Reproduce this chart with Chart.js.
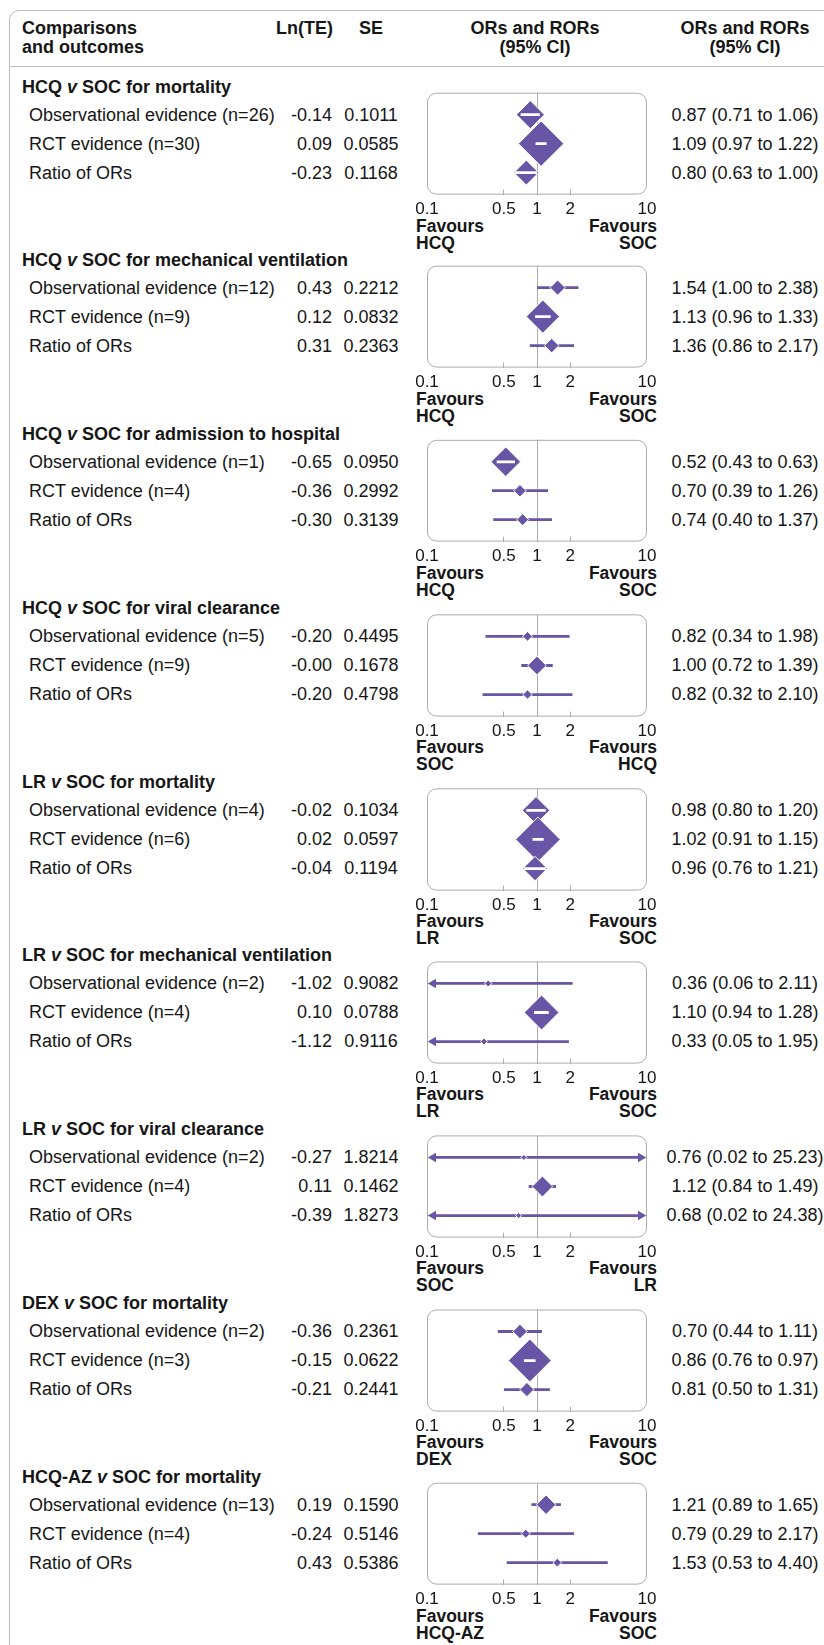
<!DOCTYPE html>
<html>
<head>
<meta charset="utf-8">
<title>Observational vs RCT evidence</title>
<script src="https://cdn.jsdelivr.net/npm/chart.js@4.4.1/dist/chart.umd.min.js"></script>
<style>
  html, body { margin: 0; padding: 0; background: #fff; }
  body { position: relative; width: 824px; height: 1645px; overflow: hidden;
         font-family: "Liberation Sans", Arial, sans-serif; color: #161616; }
  #frame { position: absolute; left: 9px; top: 10px; width: 900px; height: 1700px;
           border: 1px solid #bdbdbd; border-radius: 10px; box-sizing: border-box; }
  #rule { position: absolute; left: 10px; top: 66px; width: 820px; height: 1px; background: #bdbdbd; }
  .txt { position: absolute; white-space: nowrap; font-size: 18px; line-height: 20px; }
  .b { font-weight: bold; }
  .fav { font-weight: bold; font-size: 17.5px; line-height: 16.5px; }
  .plot { position: absolute; }
</style>
</head>
<body>
<div id="frame"></div>
<div id="rule"></div>
<script>
const comparisons = ['HCQ', 'HCQ', 'HCQ', 'HCQ', 'LR', 'LR', 'LR', 'DEX', 'HCQ-AZ'];
const outcomes = ['mortality', 'mechanical ventilation', 'admission to hospital', 'viral clearance',
                  'mortality', 'mechanical ventilation', 'viral clearance', 'mortality', 'mortality'];
const favoursLeft  = ['HCQ', 'HCQ', 'HCQ', 'SOC', 'LR', 'LR', 'SOC', 'DEX', 'HCQ-AZ'];
const favoursRight = ['SOC', 'SOC', 'SOC', 'HCQ', 'SOC', 'SOC', 'LR', 'SOC', 'SOC'];
const nObs = [26, 12, 1, 5, 4, 2, 2, 2, 13];
const nRct = [30, 9, 4, 9, 6, 4, 4, 3, 4];

// each row: observational, RCT, ratio of ORs
const lnTE = [
  [-0.14, 0.09, -0.23],
  [0.43, 0.12, 0.31],
  [-0.65, -0.36, -0.30],
  [-0.20, -0.00, -0.20],
  [-0.02, 0.02, -0.04],
  [-1.02, 0.10, -1.12],
  [-0.27, 0.11, -0.39],
  [-0.36, -0.15, -0.21],
  [0.19, -0.24, 0.43]
];
const seTE = [
  [0.1011, 0.0585, 0.1168],
  [0.2212, 0.0832, 0.2363],
  [0.0950, 0.2992, 0.3139],
  [0.4495, 0.1678, 0.4798],
  [0.1034, 0.0597, 0.1194],
  [0.9082, 0.0788, 0.9116],
  [1.8214, 0.1462, 1.8273],
  [0.2361, 0.0622, 0.2441],
  [0.1590, 0.5146, 0.5386]
];
const orEst = [
  [0.87, 1.09, 0.80],
  [1.54, 1.13, 1.36],
  [0.52, 0.70, 0.74],
  [0.82, 1.00, 0.82],
  [0.98, 1.02, 0.96],
  [0.36, 1.10, 0.33],
  [0.76, 1.12, 0.68],
  [0.70, 0.86, 0.81],
  [1.21, 0.79, 1.53]
];
const orLow = [
  [0.71, 0.97, 0.63],
  [1.00, 0.96, 0.86],
  [0.43, 0.39, 0.40],
  [0.34, 0.72, 0.32],
  [0.80, 0.91, 0.76],
  [0.06, 0.94, 0.05],
  [0.02, 0.84, 0.02],
  [0.44, 0.76, 0.50],
  [0.89, 0.29, 0.53]
];
const orHigh = [
  [1.06, 1.22, 1.00],
  [2.38, 1.33, 2.17],
  [0.63, 1.26, 1.37],
  [1.98, 1.39, 2.10],
  [1.20, 1.15, 1.21],
  [2.11, 1.28, 1.95],
  [25.23, 1.49, 24.38],
  [1.11, 0.97, 1.31],
  [1.65, 2.17, 4.40]
];
const xTicks = [0.1, 0.5, 1, 2, 10];

const FONT = '"Liberation Sans", Arial, sans-serif';
const purple = '#6955a5';
const gray = '#acacac';
const xMin = xTicks[0], xMax = xTicks[xTicks.length - 1];

// layout (page px)
const PITCH = 173.75, BOX_TOP0 = 92.7, BOX_LEFT = 427, BOX_W = 220, BOX_H = 102;
const ROW0 = 22, ROW_STEP = 29;

function markerRadius(s) { return Math.max(3, 1.2 / s + 2.2); }
function fmtLn(v) { return (v < 0 || Object.is(v, -0) ? '-' : '') + Math.abs(v).toFixed(2); }
function fmtOR(p, i) {
  return orEst[p][i].toFixed(2) + ' (' + orLow[p][i].toFixed(2) + ' to ' + orHigh[p][i].toFixed(2) + ')';
}

function put(html, x, yc, align, cls, lh) {
  const d = document.createElement('div');
  d.className = 'txt ' + (cls || '');
  d.innerHTML = html;
  const h = lh || 20;
  d.style.top = (yc - h / 2) + 'px';
  if (align === 'left') d.style.left = x + 'px';
  else if (align === 'right') { d.style.right = (824 - x) + 'px'; d.style.textAlign = 'right'; }
  else { d.style.left = x + 'px'; d.style.transform = 'translateX(-50%)'; d.style.textAlign = 'center'; }
  document.body.appendChild(d);
  return d;
}

// header
put('Comparisons', 22, 28, 'left', 'b');
put('and outcomes', 22, 47, 'left', 'b');
put('Ln(TE)', 333, 28, 'right', 'b');
put('SE', 371, 28, 'center', 'b');
put('ORs and RORs', 535, 28, 'center', 'b');
put('(95% CI)', 535, 47, 'center', 'b');
put('ORs and RORs', 745, 28, 'center', 'b');
put('(95% CI)', 745, 47, 'center', 'b');

const framePlugin = {
  id: 'frame',
  beforeDatasetsDraw(chart) {
    const { ctx, chartArea: a } = chart;
    ctx.save();
    ctx.strokeStyle = gray;
    ctx.lineWidth = 1;
    ctx.beginPath();
    ctx.roundRect(a.left + 0.5, a.top + 0.5, a.width - 1, a.height - 1, 9);
    ctx.stroke();
    ctx.restore();
  }
};

function ciInsideMarker(chart, p, i) {
  const sx = chart.scales.x;
  if (!sx) return false;
  const c = sx.getPixelForValue(orEst[p][i]);
  const r = markerRadius(seTE[p][i]);
  return sx.getPixelForValue(orLow[p][i]) >= c - r && sx.getPixelForValue(orHigh[p][i]) <= c + r;
}

function makeChart(p, height) {
  const wrap = document.createElement('div');
  wrap.className = 'plot';
  const canvas = document.createElement('canvas');
  canvas.width = 270;
  canvas.height = height;
  canvas.style.width = '270px';
  canvas.style.height = height + 'px';
  wrap.appendChild(canvas);
  document.body.appendChild(wrap);

  const rows = [0, 1, 2];
  const datasets = [];
  // confidence intervals (arrows where they run off the axis)
  rows.forEach(i => {
    const lo = orLow[p][i], hi = orHigh[p][i];
    datasets.push({
      showLine: true,
      data: [{ x: lo < xMin ? xMin * 1.14 : lo, y: i + 1 }, { x: hi > xMax ? xMax / 1.14 : hi, y: i + 1 }],
      borderColor: purple,
      borderWidth: 2.8,
      pointStyle: 'triangle',
      pointRadius: [lo < xMin ? 5.5 : 0, hi > xMax ? 5.5 : 0],
      pointRotation: [-90, 90],
      pointBackgroundColor: purple,
      pointBorderWidth: 0,
      order: 3,
      clip: 10
    });
  });
  // point estimates
  datasets.push({
    data: rows.map(i => ({ x: orEst[p][i], y: i + 1 })),
    pointStyle: 'rectRot',
    pointRadius: rows.map(i => markerRadius(seTE[p][i])),
    pointBackgroundColor: purple,
    pointBorderColor: '#fff',
    pointBorderWidth: 1,
    showLine: false,
    order: 2,
    clip: 30
  });
  // CI drawn in white where it sits inside the marker
  rows.forEach(i => {
    datasets.push({
      showLine: true,
      data: [{ x: orLow[p][i], y: i + 1 }, { x: orHigh[p][i], y: i + 1 }],
      borderWidth: 2.8,
      pointRadius: 0,
      order: 1,
      borderColor: ctx => ciInsideMarker(ctx.chart, p, i) ? '#fff' : 'rgba(255,255,255,0)'
    });
  });

  const chart = new Chart(canvas, {
    type: 'scatter',
    data: { datasets },
    plugins: [framePlugin],
    options: {
      responsive: false,
      animation: false,
      events: [],
      layout: { padding: { left: 25, right: 25, top: 4, bottom: 0 } },
      plugins: { legend: { display: false }, tooltip: { enabled: false } },
      scales: {
        x: {
          type: 'logarithmic',
          min: xMin,
          max: xMax,
          afterBuildTicks: axis => { axis.ticks = xTicks.map(v => ({ value: v })); },
          ticks: {
            autoSkip: false, maxRotation: 0, padding: 10, color: '#161616',
            font: { family: FONT, size: 17 },
            callback: v => String(v)
          },
          grid: {
            drawOnChartArea: true,
            tickLength: -5,
            lineWidth: 1,
            color: ctx => (ctx.tick && ctx.tick.value === 1) ? gray : 'rgba(0,0,0,0)',
            tickColor: ctx => (ctx.tick && (ctx.tick.value === xMin || ctx.tick.value === xMax)) ? 'rgba(0,0,0,0)' : gray
          },
          border: { display: false }
        },
        y: {
          type: 'linear',
          min: 1 - ROW0 / ROW_STEP,
          max: 3 + ROW0 / ROW_STEP,
          reverse: true,
          display: false
        }
      }
    }
  });
  return { chart, wrap };
}

outcomes.forEach((outcome, p) => {
  const boxTop = Math.round(BOX_TOP0 + p * PITCH);

  put(comparisons[p] + ' <i>v</i> SOC for ' + outcome, 22, boxTop - 6.5, 'left', 'b');
  const labels = ['Observational evidence (n=' + nObs[p] + ')', 'RCT evidence (n=' + nRct[p] + ')', 'Ratio of ORs'];
  labels.forEach((lab, i) => {
    const yc = boxTop + ROW0 + i * ROW_STEP;
    put(lab, 29, yc, 'left');
    put(fmtLn(lnTE[p][i]), 332, yc, 'right');
    put(seTE[p][i].toFixed(4), 371, yc, 'center');
    put(fmtOR(p, i), 745, yc, 'center');
  });

  put('Favours<br>' + favoursLeft[p], 416, boxTop + 141.75, 'left', 'fav', 33);
  put('Favours<br>' + favoursRight[p], 657, boxTop + 141.75, 'right', 'fav', 33);

  let built = makeChart(p, 150);
  const diff = built.chart.chartArea.height - BOX_H;
  if (Math.abs(diff) > 0.5) {
    built.chart.destroy();
    built.wrap.remove();
    built = makeChart(p, Math.round(150 - diff));
  }
  const a = built.chart.chartArea;
  built.wrap.style.left = (BOX_LEFT - a.left) + 'px';
  built.wrap.style.top = (boxTop - a.top) + 'px';
});
</script>
</body>
</html>
